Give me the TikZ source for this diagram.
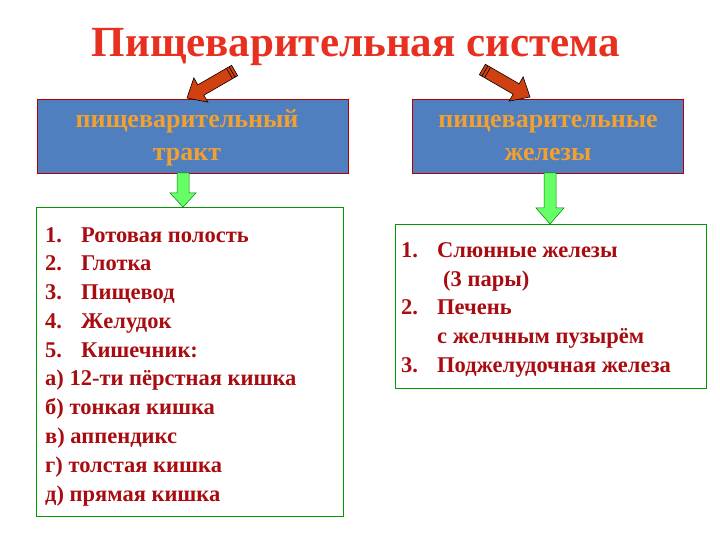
\documentclass[tikz,border=0pt]{standalone}
\usepackage{fontspec}
\setmainfont{Liberation Serif}
\begin{document}
\begin{tikzpicture}[x=1pt,y=-1pt,
  hbox/.style={draw=red!70!black,fill=blue1,line width=0.8pt},
  lbox/.style={draw=green!60!black,line width=0.6pt},
  htxt/.style={font=\bfseries\fontsize{26}{33}\selectfont,text=orange1,align=center},
  item/.style={font=\bfseries\fontsize{22.5}{26}\selectfont,text=red1,anchor=base west,inner sep=0pt},
  garrow/.style={fill=green1,draw=green!50!black,line width=0.5pt},
  rarrow/.style={fill=red2,draw=black,line width=0.6pt}]
\definecolor{blue1}{HTML}{4F7FBF}
\definecolor{orange1}{HTML}{F2A030}
\definecolor{red1}{HTML}{A80C10}
\definecolor{green1}{HTML}{66FF66}
\definecolor{red2}{HTML}{D04010}
\definecolor{title}{HTML}{E83020}
\useasboundingbox (0,0) rectangle (720,540);
\node[font=\bfseries\fontsize{43}{48}\selectfont,text=title] (t) at (356,47) {Пищеварительная система};
\draw[hbox] (37,99) rectangle (348,173);
\node[htxt] (a) at (187,138) {пищеварительный\\тракт};
\draw[hbox] (412,99) rectangle (683,173);
\node[htxt] (b) at (548,138) {пищеварительные\\железы};
\draw[lbox] (36,207) rectangle (343,516);
\draw[lbox] (395,224) rectangle (706,388);
% green arrows
\draw[garrow] (177,173) -- (189,173) -- (189,193) -- (196,193) -- (183,207) -- (170,193) -- (177,193) -- cycle;
\draw[garrow] (544,173) -- (556,173) -- (556,208) -- (564,208) -- (550,224) -- (536,208) -- (544,208) -- cycle;
% red arrows
\begin{scope}[shift={(187,98)},rotate=30]
\draw[rarrow] (0,0) -- (16,-14) -- (16,-6) -- (55,-6) -- (55,6) -- (16,6) -- (16,14) -- cycle;
\draw[line width=0.6pt] (49,-6) -- (49,6) (52,-6) -- (52,6);
\end{scope}
\begin{scope}[shift={(530,97)},rotate=150]
\draw[rarrow] (0,0) -- (16,-14) -- (16,-6) -- (55,-6) -- (55,6) -- (16,6) -- (16,14) -- cycle;
\draw[line width=0.6pt] (49,-6) -- (49,6) (52,-6) -- (52,6);
\end{scope}
% left list
\foreach \n/\y/\t in {1./235/Ротовая полость,2./263/Глотка,3./292/Пищевод,4./321/Жeлудок,5./350/Кишечник:}{
  \node[item] (n\n) at (45,\y+7) {\n};
  \node[item] (l\n) at (81,\y+7) {\t};}
\node[item] (la) at (45,385) {а) 12-ти пёрстная кишка};
\node[item] (lb) at (45,414) {б) тонкая кишка};
\node[item] (lc) at (45,443) {в) аппендикс};
\node[item] (ld) at (45,472) {г) толстая кишка};
\node[item] (le) at (45,501) {д) прямая кишка};
% right list
\node[item] (r1n) at (401,258) {1.};
\node[item] (r1) at (437,258) {Слюнные железы};
\node[item] (r1b) at (443,286) {(3 пары)};
\node[item] (r2n) at (401,314) {2.};
\node[item] (r2) at (437,314) {Печень};
\node[item] (r2b) at (437,343) {с желчным пузырём};
\node[item] (r3n) at (401,372) {3.};
\node[item] (r3) at (437,372) {Поджелудочная железа};
\end{tikzpicture}
\end{document}
